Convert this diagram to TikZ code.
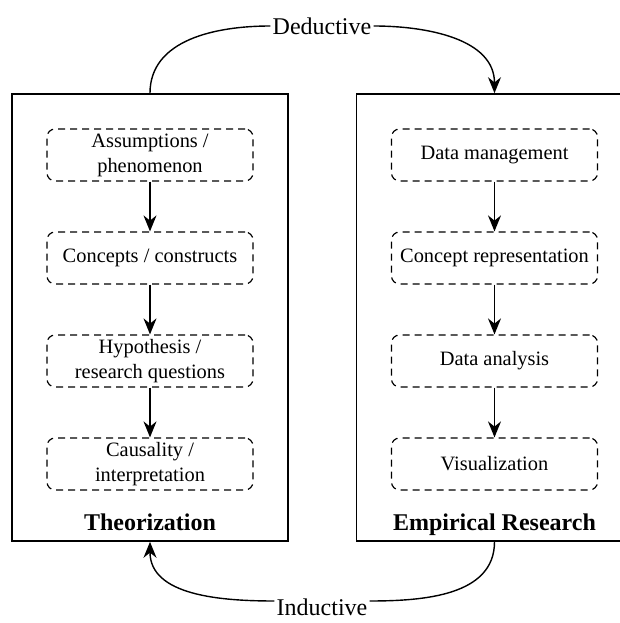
\documentclass[tikz,border=0pt]{standalone}
\usepackage{fontspec}
\setmainfont{Liberation Serif}
\usetikzlibrary{arrows.meta}

\tikzset{
  outerbox/.style={draw, line width=0.8pt, minimum width=138pt, minimum height=223.5pt},
  stagebox/.style={draw, dash pattern=on 3.5pt off 2.5pt, rounded corners=4pt, line width=0.6pt,
    minimum width=103pt, minimum height=26pt, inner sep=2pt, align=center,
    font=\fontsize{10.2}{12.5}\selectfont},
  flow/.style={line width=0.9pt, -{Stealth[length=8pt,width=6.5pt]}},
  loopline/.style={line width=0.7pt},
  boxtitle/.style={anchor=base, font=\fontsize{12}{14}\selectfont\bfseries},
  looplabel/.style={inner sep=1pt, font=\fontsize{12}{14}\selectfont}
}

\begin{document}
\begin{tikzpicture}[x=0.5pt, y=0.5pt]
\useasboundingbox (0,0) rectangle (620,623);
\clip (0,0) rectangle (620,623);
% the two sides
\node[outerbox] (theory) at (150,305.5) {};
\node[outerbox] (empirical) at (494.5,305.5) {};
\node[boxtitle] (theorytitle) at (150,92) {Theorization};
\node[boxtitle] (empiricaltitle) at (494.5,92) {Empirical Research};

% theory steps
\node[stagebox] (t1) at (150,468) {Assumptions /\\phenomenon};
\node[stagebox] (t2) at (150,365) {Concepts / constructs};
\node[stagebox] (t3) at (150,262) {Hypothesis /\\research questions};
\node[stagebox] (t4) at (150,159) {Causality /\\interpretation};

% empirical steps
\node[stagebox] (e1) at (494.5,468) {Data management};
\node[stagebox] (e2) at (494.5,365) {Concept representation};
\node[stagebox] (e3) at (494.5,262) {Data analysis};
\node[stagebox] (e4) at (494.5,159) {Visualization};

\foreach \a/\b in {t1/t2,t2/t3,t3/t4,e1/e2,e2/e3,e3/e4}{
	\draw[flow](\a)--(\b);
}

% deductive / inductive loop
\node[looplabel] (deductive) at (322,597) {Deductive};
\node[looplabel] (inductive) at (322,16) {Inductive};
\draw[loopline](theory.north) to[out=90,in=180] (deductive.west);
\draw[loopline, -{Stealth[length=8pt,width=6.5pt]}](deductive.east) to[out=0,in=90] (empirical.north);
\draw[loopline]([yshift=3pt]inductive.east) to[out=0,in=-90] (empirical.south);
\draw[loopline, -{Stealth[length=8pt,width=6.5pt]}]([yshift=3pt]inductive.west) to[out=180,in=-90] (theory.south);
\end{tikzpicture}
\end{document}
